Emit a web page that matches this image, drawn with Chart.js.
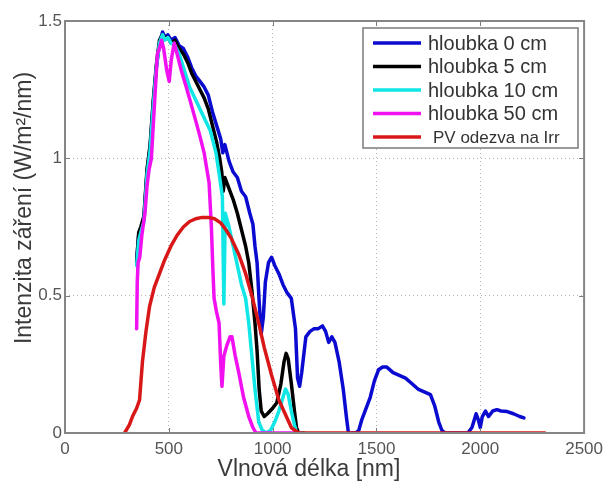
<!DOCTYPE html>
<html>
<head>
<meta charset="utf-8">
<script src="https://cdn.jsdelivr.net/npm/chart.js@4.4.1/dist/chart.umd.min.js"></script>
<style>
  html, body { margin: 0; padding: 0; background: #fff; }
</style>
</head>
<body>
<canvas id="chart" width="609" height="486"></canvas>
<script>
// spectral irradiance at several depths + PV response
const wl0 = [345,355,365,380,395,410,425,440,455,470, 480,495,510,530,550,570,590,610,630,650,
  670,690,710,730,750,760,770,790,810,830, 850,870,890,905,915,925,935,945,955,965,
  980,995,1010,1030,1050,1070,1090,1110,1120,1130, 1140,1160,1180,1200,1220,1240,1255,1270,1285,1300,
  1320,1340,1355,1365,1380,1400,1415,1430,1450,1470, 1490,1510,1530,1550,1580,1610,1640,1670,1700,1730,
  1760,1780,1800,1815,1830,1860,1900,1940,1960,1980, 1990,2000,2010,2025,2040,2060,2080,2100,2130,2160,
  2190,2210];
const irr0 = [0.63,0.72,0.74,0.78,0.95,1.04,1.20,1.33,1.42,1.46, 1.44,1.45,1.43,1.44,1.41,1.40,1.37,1.33,1.30,1.28,
  1.26,1.23,1.17,1.12,1.07,1.02,1.05,0.99,0.95,0.93, 0.88,0.86,0.80,0.76,0.68,0.62,0.48,0.36,0.42,0.55,
  0.62,0.64,0.61,0.58,0.54,0.51,0.49,0.38,0.20,0.17, 0.22,0.35,0.37,0.38,0.38,0.39,0.37,0.33,0.35,0.33,
  0.26,0.16,0.06,0,0,0,0.01,0.05,0.09,0.13, 0.19,0.23,0.24,0.24,0.22,0.21,0.20,0.18,0.16,0.15,
  0.14,0.10,0.04,0.01,0,0,0,0,0.02,0.07, 0.05,0.02,0.06,0.08,0.06,0.08,0.085,0.08,0.078,0.07,
  0.06,0.055];

const wl5 = [345,355,365,380,395,410,425,440,455,470, 480,495,510,530,550,570,590,610,630,650,
  670,690,710,730,745,755,762,770,790,810, 830,850,870,885,900,915,925,935,945,960,
  975,1000,1020,1040,1055,1065,1075,1090,1105,1115, 1125,1150];
const irr5 = [0.62,0.73,0.75,0.79,0.96,1.05,1.21,1.34,1.43,1.45, 1.44,1.44,1.42,1.43,1.40,1.38,1.35,1.31,1.28,1.25,
  1.22,1.18,1.12,1.06,1.0,0.95,0.88,0.93,0.89,0.85, 0.80,0.74,0.68,0.62,0.52,0.40,0.30,0.16,0.08,0.06,
  0.07,0.09,0.11,0.18,0.26,0.29,0.27,0.18,0.08,0.02, 0,0];

const wl10 = [345,355,365,380,395,410,425,440,455,470, 480,495,510,530,550,575,600,625,650,675,
  700,727,745,758,765,772,790,810,830,850, 870,885,900,915,933,950,970,990,1010,1030,
  1050,1062,1075,1090,1105,1115,1150];
const irr10 = [0.61,0.70,0.73,0.77,0.94,1.03,1.19,1.33,1.42,1.45, 1.43,1.44,1.42,1.41,1.38,1.32,1.26,1.22,1.18,1.14,
  1.10,1.02,0.93,0.86,0.47,0.80,0.75,0.68,0.61,0.54, 0.49,0.40,0.28,0.16,0.04,0.01,0,0.01,0.04,0.08,
  0.13,0.16,0.14,0.08,0.03,0,0];

const wl50 = [345,348,352,360,370,385,395,405,416,425, 435,445,455,465,475,490,502,512,526,540,
  560,584,610,632,650,670,694,705,712,718, 730,742,750,756,765,780,795,804,820,837,
  860,885,905,920,1000,1130];
const irr50 = [0.38,0.55,0.62,0.64,0.72,0.80,0.90,0.96,1.00,1.12, 1.25,1.38,1.40,1.43,1.40,1.32,1.28,1.36,1.42,1.38,
  1.32,1.26,1.19,1.13,1.08,1.02,0.91,0.75,0.60,0.49, 0.44,0.40,0.25,0.17,0.28,0.32,0.35,0.35,0.28,0.22,
  0.13,0.06,0.02,0,0,0];

const wlPV = [287,310,325,345,359,366,373,390,407,430, 455,480,510,540,570,600,630,660,690,720,
  750,775,800,837,870,900,933,960,995,1030, 1060,1090,1124,1500,2311];
const pv = [0,0.03,0.06,0.09,0.12,0.19,0.26,0.37,0.46,0.53, 0.58,0.63,0.68,0.72,0.75,0.77,0.78,0.785,0.785,0.78,
  0.765,0.74,0.71,0.65,0.58,0.50,0.40,0.31,0.21,0.12, 0.07,0.02,0,0,0];

const seriesNames = ['hloubka 0 cm', 'hloubka 5 cm', 'hloubka 10 cm', 'hloubka 50 cm', 'PV odezva na Irr'];
const xTickLabels = ['0', '500', '1000', '1500', '2000', '2500'];
const yTickLabels = ['0', '0.5', '1', '1.5'];

function pts(xs, ys) {
  return xs.map((v, i) => ({ x: v, y: ys[i] }));
}

const colors = ['#0a0ad0', '#000000', '#10e6e6', '#f010f0', '#d81818'];
const rows = [[wl0, irr0], [wl5, irr5], [wl10, irr10], [wl50, irr50], [wlPV, pv]];

const datasets = rows.map((r, i) => ({
  label: seriesNames[i],
  data: pts(r[0], r[1]),
  borderColor: colors[i],
  borderWidth: 3.5,
  borderJoinStyle: 'round',
  borderCapStyle: 'round',
  pointRadius: 0,
  tension: 0,
  order: rows.length - i   // later series on top
}));

const tickFont = { family: '"Liberation Sans Narrow", "Liberation Sans", Arial', size: 17 };

// axes box, inner ticks, axis titles and legend
const frame = {
  id: 'frame',
  afterDraw(chart) {
    const { ctx, chartArea: a, scales: { x, y } } = chart;
    ctx.save();

    ctx.strokeStyle = '#7c7c7c';
    ctx.lineWidth = 1;
    ctx.beginPath();
    [500, 1000, 1500, 2000].forEach(v => {
      const px = Math.round(x.getPixelForValue(v)) + 0.5;
      ctx.moveTo(px, a.top); ctx.lineTo(px, a.top + 5);
      ctx.moveTo(px, a.bottom); ctx.lineTo(px, a.bottom - 5);
    });
    [0.5, 1].forEach(v => {
      const py = Math.round(y.getPixelForValue(v)) + 0.5;
      ctx.moveTo(a.left, py); ctx.lineTo(a.left + 5, py);
      ctx.moveTo(a.right, py); ctx.lineTo(a.right - 5, py);
    });
    ctx.stroke();

    ctx.lineWidth = 2;
    ctx.strokeStyle = '#858585';
    ctx.strokeRect(a.left, a.top, a.right - a.left, a.bottom - a.top);

    // axis titles
    ctx.fillStyle = '#3a3a3a';
    ctx.font = '23px "Liberation Sans", Arial';
    ctx.textAlign = 'center';
    ctx.textBaseline = 'middle';
    ctx.fillText('Vlnová délka [nm]', 309, 470);
    ctx.save();
    ctx.translate(25, 208);
    ctx.rotate(-Math.PI / 2);
    ctx.fillText('Intenzita záření (W/m²/nm)', 0, 0);
    ctx.restore();

    // legend
    const lx = 363, ly = 28, lw = 215, lh = 120;
    ctx.fillStyle = '#fff';
    ctx.fillRect(lx, ly, lw, lh);
    ctx.lineWidth = 1.5;
    ctx.strokeStyle = '#7a7a7a';
    ctx.strokeRect(lx, ly, lw, lh);
    ctx.textAlign = 'left';
    chart.data.datasets.forEach((ds, i) => {
      const ry = 43 + i * 23.5;
      ctx.strokeStyle = ds.borderColor;
      ctx.lineWidth = 3.5;
      ctx.beginPath();
      ctx.moveTo(373, ry); ctx.lineTo(421, ry);
      ctx.stroke();
      ctx.fillStyle = '#333';
      if (i === 4) {
        ctx.font = '17px "Liberation Sans", Arial';
        ctx.fillText(ds.label, 433, ry + 1);
      } else {
        ctx.font = '20px "Liberation Sans", Arial';
        ctx.fillText(ds.label, 428, ry + 1);
      }
    });
    ctx.restore();
  }
};

new Chart(document.getElementById('chart').getContext('2d'), {
  type: 'line',
  data: { datasets: datasets },
  options: {
    responsive: false,
    animation: false,
    layout: { padding: { top: 21, right: 21, left: 0, bottom: 0 } },
    plugins: { legend: { display: false }, tooltip: { enabled: false } },
    scales: {
      x: {
        type: 'linear',
        min: 0, max: 2500,
        afterFit: s => { s.height = 53; },
        ticks: {
          stepSize: 500,
          padding: 6,
          color: '#555',
          font: tickFont,
          maxRotation: 0,
          callback: v => xTickLabels[v / 500]
        },
        grid: { color: '#b4b4b4', lineWidth: 1, drawTicks: false },
        border: { display: false, dash: [1, 3] }
      },
      y: {
        min: 0, max: 1.5,
        afterFit: s => { s.width = 65; },
        ticks: {
          stepSize: 0.5,
          padding: 3,
          color: '#555',
          font: tickFont,
          callback: v => yTickLabels[Math.round(v * 2)]
        },
        grid: { color: '#b4b4b4', lineWidth: 1, drawTicks: false },
        border: { display: false, dash: [1, 3] }
      }
    }
  },
  plugins: [frame]
});
</script>
</body>
</html>
